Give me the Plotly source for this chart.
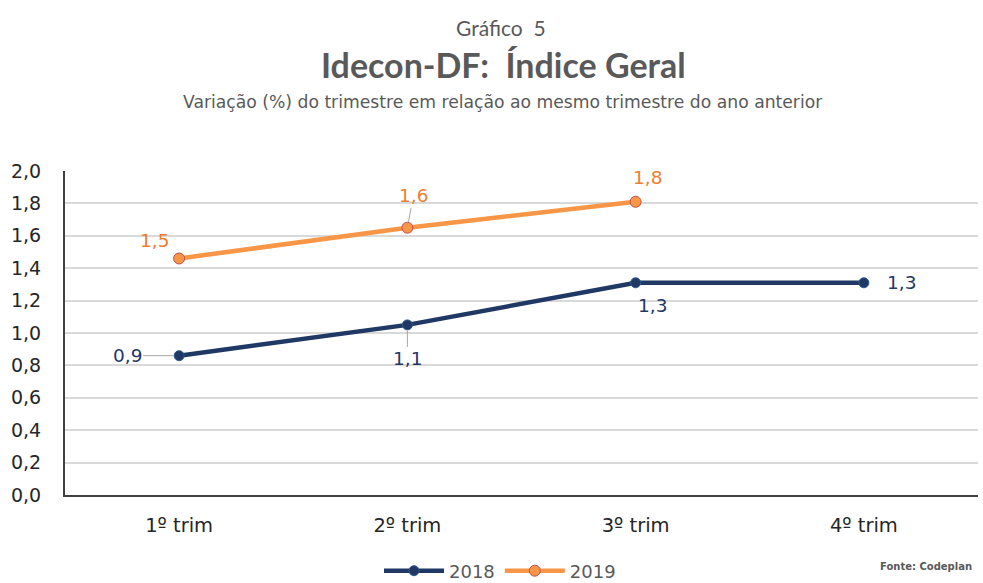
import plotly.graph_objects as go

categories = ["1º trim", "2º trim", "3º trim", "4º trim"]
values_2018 = [0.86, 1.05, 1.31, 1.31]
values_2019 = [1.46, 1.65, 1.81]
labels_2018 = ["0,9", "1,1", "1,3", "1,3"]
labels_2019 = ["1,5", "1,6", "1,8"]
y_ticks = [0.0, 0.2, 0.4, 0.6, 0.8, 1.0, 1.2, 1.4, 1.6, 1.8, 2.0]
y_tick_text = [f"{v:.1f}".replace(".", ",") for v in y_ticks]

NAVY = "#1F3864"
ORANGE = "#F79646"
ORANGE_TXT = "#ED7D31"
TITLE_FONT = "Lato, 'Open Sans', sans-serif"
BODY_FONT = "'DejaVu Sans', Verdana, sans-serif"

fig = go.Figure()
fig.add_trace(go.Scatter(
    x=categories, y=values_2018, name="2018", mode="lines+markers",
    line=dict(color=NAVY, width=4.5),
    marker=dict(size=10, color=NAVY, line=dict(color="#2E5A8E", width=1)),
))
fig.add_trace(go.Scatter(
    x=categories[:len(values_2019)], y=values_2019, name="2019", mode="lines+markers",
    line=dict(color=ORANGE, width=4.5),
    marker=dict(size=11, color=ORANGE, line=dict(color="#C0504D", width=1)),
))

# data labels (offsets in pixels, leader line colour)
off_2018 = [(-52, 0, "#A6A6A6"), (0, 34, "#A6A6A6"), (17, 23, "rgba(0,0,0,0)"), (38, 0, "rgba(0,0,0,0)")]
off_2019 = [(-25, -18, "rgba(0,0,0,0)"), (6, -32, "#A6A6A6"), (12, -24, "rgba(0,0,0,0)")]
for cat, v, lab, (ax, ay, col) in zip(categories, values_2018, labels_2018, off_2018):
    fig.add_annotation(x=cat, y=v, text=lab, showarrow=True, arrowhead=0, arrowwidth=1,
                       arrowcolor=col, ax=ax, ay=ay, standoff=6,
                       font=dict(family=BODY_FONT, size=18.5, color=NAVY))
for cat, v, lab, (ax, ay, col) in zip(categories, values_2019, labels_2019, off_2019):
    fig.add_annotation(x=cat, y=v, text=lab, showarrow=True, arrowhead=0, arrowwidth=1,
                       arrowcolor=col, ax=ax, ay=ay, standoff=6,
                       font=dict(family=BODY_FONT, size=18.5, color=ORANGE_TXT))

# titles
fig.add_annotation(xref="paper", yref="paper", x=(501 - 65) / 913, y=(495 - 27) / 324,
                   text="Gráfico&nbsp; 5", showarrow=False, yanchor="middle",
                   font=dict(family=TITLE_FONT, size=21, color="#595959"))
fig.add_annotation(xref="paper", yref="paper", x=(503 - 65) / 913, y=(495 - 64) / 324,
                   text="<b>Idecon-DF:  Índice Geral</b>", showarrow=False, yanchor="middle",
                   font=dict(family=TITLE_FONT, size=34, color="#595959"))
fig.add_annotation(xref="paper", yref="paper", x=(503 - 65) / 913, y=(495 - 102) / 324,
                   text="Variação (%) do trimestre em relação ao mesmo trimestre do ano anterior",
                   showarrow=False, yanchor="middle",
                   font=dict(family=BODY_FONT, size=17.2, color="#595959"))
fig.add_annotation(xref="paper", yref="paper", x=(878 - 65) / 913, y=(495 - 566) / 324,
                   text="<b>Fonte: Codeplan</b>", showarrow=False, xanchor="left", yanchor="middle",
                   font=dict(family=BODY_FONT, size=10, color="#595959"))

fig.update_layout(
    width=983, height=583,
    margin=dict(l=65, r=5, t=171, b=88, autoexpand=False),
    paper_bgcolor="white", plot_bgcolor="white",
    font=dict(family=BODY_FONT, color="#262626"),
    showlegend=True,
    legend=dict(orientation="h", x=(500 - 65) / 913, xanchor="center", y=(495 - 571) / 324, yanchor="middle",
                font=dict(family=BODY_FONT, size=18, color="#595959"), itemwidth=60),
    xaxis=dict(range=[-0.5, 3.5], showgrid=False, showline=True, linecolor="#404040", linewidth=2,
               tickfont=dict(family=BODY_FONT, size=19.5, color="#262626"), ticks="",
               automargin=False, ticklabelstandoff=12),
    yaxis=dict(range=[0, 2.0], tickvals=y_ticks, ticktext=y_tick_text, showgrid=True,
               gridcolor="#D9D9D9", gridwidth=1.5, showline=True, linecolor="#404040", linewidth=2,
               zeroline=False, tickfont=dict(family=BODY_FONT, size=19, color="#262626"), ticks="",
               automargin=False, ticklabelstandoff=18),
)

fig.write_html("out.html", config={"displayModeBar": False},
               post_script="document.body.style.margin='0';")
